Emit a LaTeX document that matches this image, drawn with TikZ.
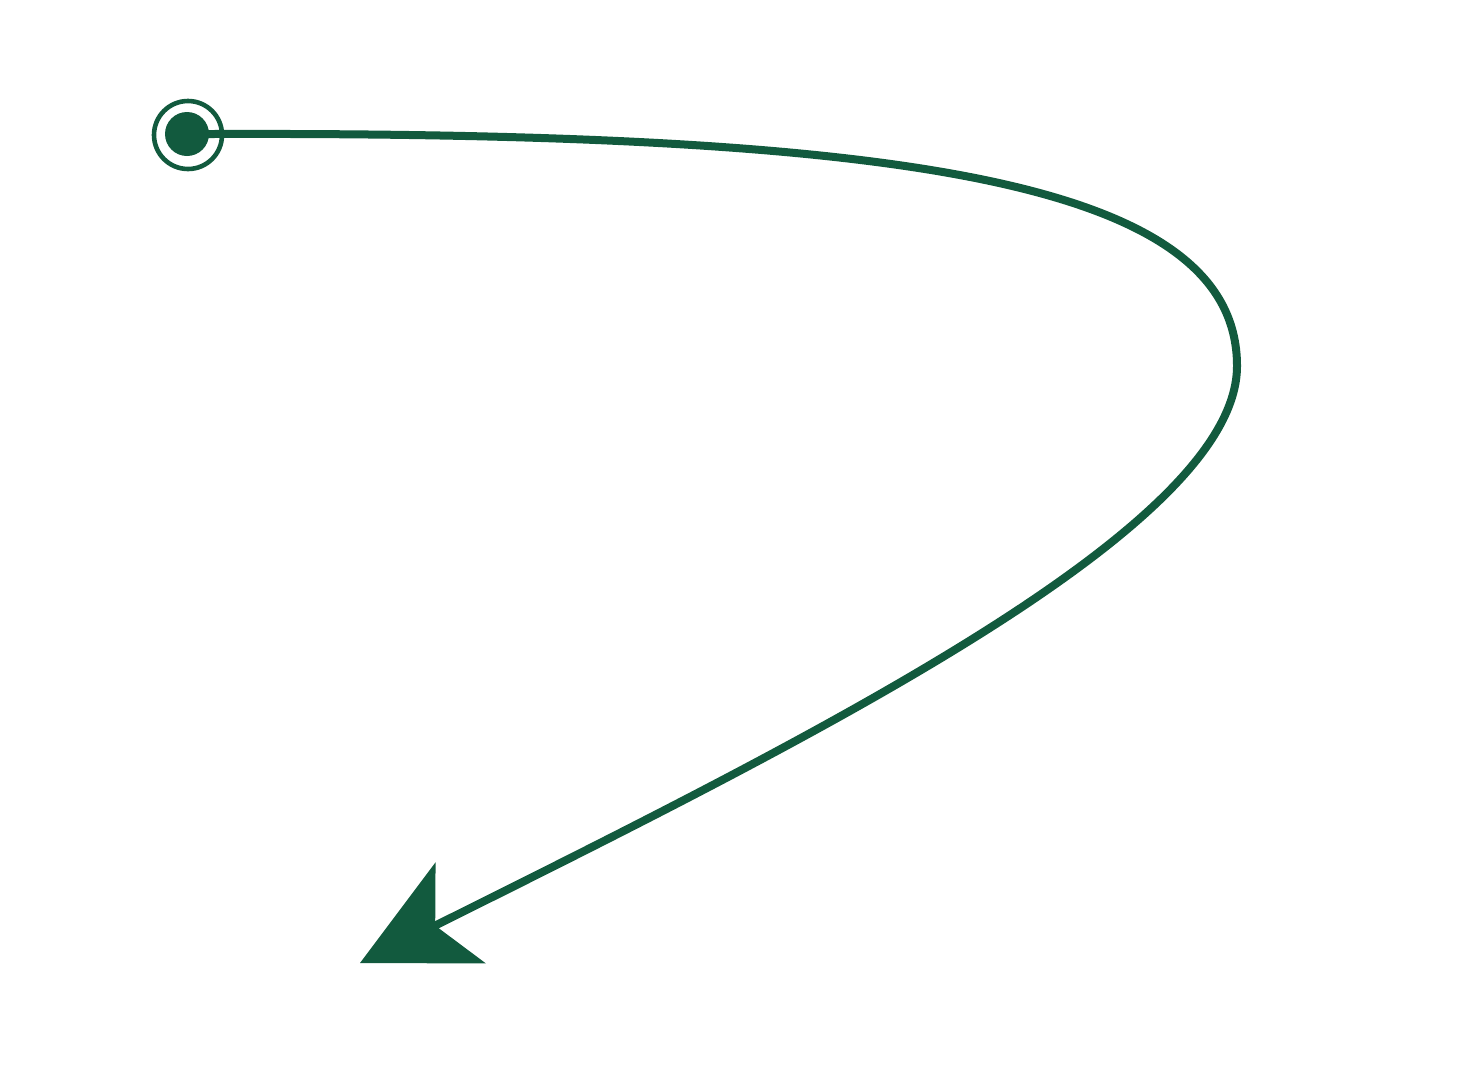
\documentclass[tikz,border=0pt]{standalone}
\usetikzlibrary{arrows.meta}
\definecolor{pathgreen}{RGB}{18,90,62}

\begin{document}
\begin{tikzpicture}[x=0.5pt,y=-0.5pt,->,>={Stealth[length=56pt,width=56pt,inset=14pt]},
    line width=4pt,pathgreen,
    ring/.style={circle,draw,line width=2.3pt,minimum size=34pt,inner sep=0pt},
    dot/.style={circle,fill,minimum size=22pt,inner sep=0pt}]

\useasboundingbox (0,0) rectangle (1475,1066);

\node[ring] (start) at (188,135) {};
\node[dot] (dot) at (187,134) {};
\coordinate (tip) at (360,963);

\draw (dot.center) -- (dot.east) .. controls (900,132) and (1237,180) .. (1237,366)
    .. controls (1237,525) and (828,730) .. (tip);

\end{tikzpicture}
\end{document}
